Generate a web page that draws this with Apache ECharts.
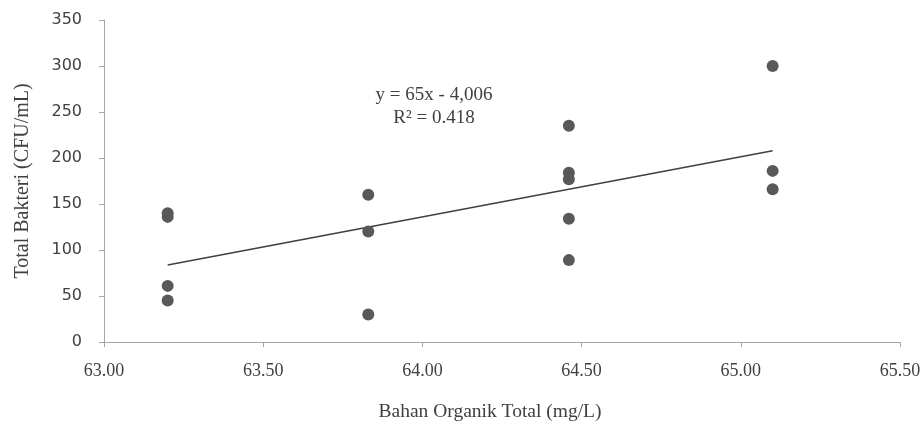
<!DOCTYPE html>
<html>
<head>
<meta charset="utf-8">
<script src="https://cdn.jsdelivr.net/npm/echarts@6/dist/echarts.min.js"></script>
<style>
html,body{margin:0;padding:0;background:#fff;}
#charts{width:923px;height:423px;}
</style>
</head>
<body>
<div id="charts"></div>
<script>
// Bahan organik total (mg/L) vs total bakteri (CFU/mL)
var xValues = [63.2, 63.2, 63.2, 63.2, 63.83, 63.83, 63.83, 64.46, 64.46, 64.46, 64.46, 64.46, 65.1, 65.1, 65.1];
var yValues = [140, 136, 61, 45, 160, 120, 30, 235, 184, 177, 134, 89, 300, 186, 166];
var eqLines = ['y = 65x - 4,006', 'R\u00b2 = 0.418'];

var serif = '"Liberation Serif", "DejaVu Serif", serif';
var sans = '"DejaVu Sans", sans-serif';

// data titik
var points = [];
for (var i = 0; i < xValues.length; i++) {
	points.push([xValues[i], yValues[i]]);
}

// garis tren (kuadrat terkecil)
function trendLine(){
	var n = xValues.length, mx = 0, my = 0, sxy = 0, sxx = 0;
	for (var i = 0; i < n; i++) { mx += xValues[i]; my += yValues[i]; }
	mx = mx / n; my = my / n;
	for (var i = 0; i < n; i++) {
		sxy += (xValues[i] - mx) * (yValues[i] - my);
		sxx += (xValues[i] - mx) * (xValues[i] - mx);
	}
	var b = sxy / sxx, a = my - b * mx;
	var x0 = Math.min.apply(null, xValues), x1 = Math.max.apply(null, xValues);
	return [[x0, a + b * x0], [x1, a + b * x1]];
}

var charts = echarts.init(document.getElementById('charts'), null, {renderer: 'canvas'});
var option = {
	animation: false,
	backgroundColor: '#fff',
	grid: {
		left: 104,
		right: 23,
		top: 20,
		bottom: 81,
		containLabel: false,
		outerBoundsMode: 'none'
	},
	xAxis: {
		type: 'value',
		min: 63,
		max: 65.5,
		interval: 0.5,
		name: 'Bahan Organik Total (mg/L)',
		nameLocation: 'middle',
		nameGap: 60,
		nameTextStyle: {fontFamily: serif, fontSize: 19.5, color: '#404040', padding: [0, 24, 0, 0]},
		axisLine: {lineStyle: {color: '#A6A6A6', width: 1}},
		axisTick: {show: true, length: 5, lineStyle: {color: '#A6A6A6'}},
		axisLabel: {
			margin: 20,
			fontFamily: serif,
			fontSize: 18,
			color: '#404040',
			formatter: function(v){ return v.toFixed(2); }
		},
		splitLine: {show: false}
	},
	yAxis: {
		type: 'value',
		min: 0,
		max: 350,
		interval: 50,
		name: 'Total Bakteri (CFU/mL)',
		nameLocation: 'middle',
		nameGap: 71,
		nameRotate: 90,
		nameTextStyle: {fontFamily: serif, fontSize: 20, color: '#404040'},
		axisLine: {show: true, lineStyle: {color: '#A6A6A6', width: 1}},
		axisTick: {show: true, length: 5, lineStyle: {color: '#A6A6A6'}},
		axisLabel: {margin: 22, fontFamily: sans, fontSize: 16, color: '#404040'},
		splitLine: {show: false}
	},
	series: [{
		type: 'scatter',
		data: points,
		symbol: 'circle',
		symbolSize: 12,
		itemStyle: {color: '#595959', opacity: 1},
		z: 3
	}, {
		type: 'line',
		data: trendLine(),
		symbol: 'none',
		lineStyle: {color: '#404040', width: 1.5},
		z: 2
	}],
	graphic: [{
		type: 'text',
		x: 434,
		y: 95,
		style: {
			text: eqLines[0],
			font: '19px ' + serif,
			fill: '#404040',
			textAlign: 'center',
			align: 'center',
			textVerticalAlign: 'middle',
			verticalAlign: 'middle'
		}
	}, {
		type: 'text',
		x: 434,
		y: 118,
		style: {
			text: eqLines[1],
			font: '19px ' + serif,
			fill: '#404040',
			textAlign: 'center',
			align: 'center',
			textVerticalAlign: 'middle',
			verticalAlign: 'middle'
		}
	}]
};
charts.setOption(option);
</script>
</body>
</html>
